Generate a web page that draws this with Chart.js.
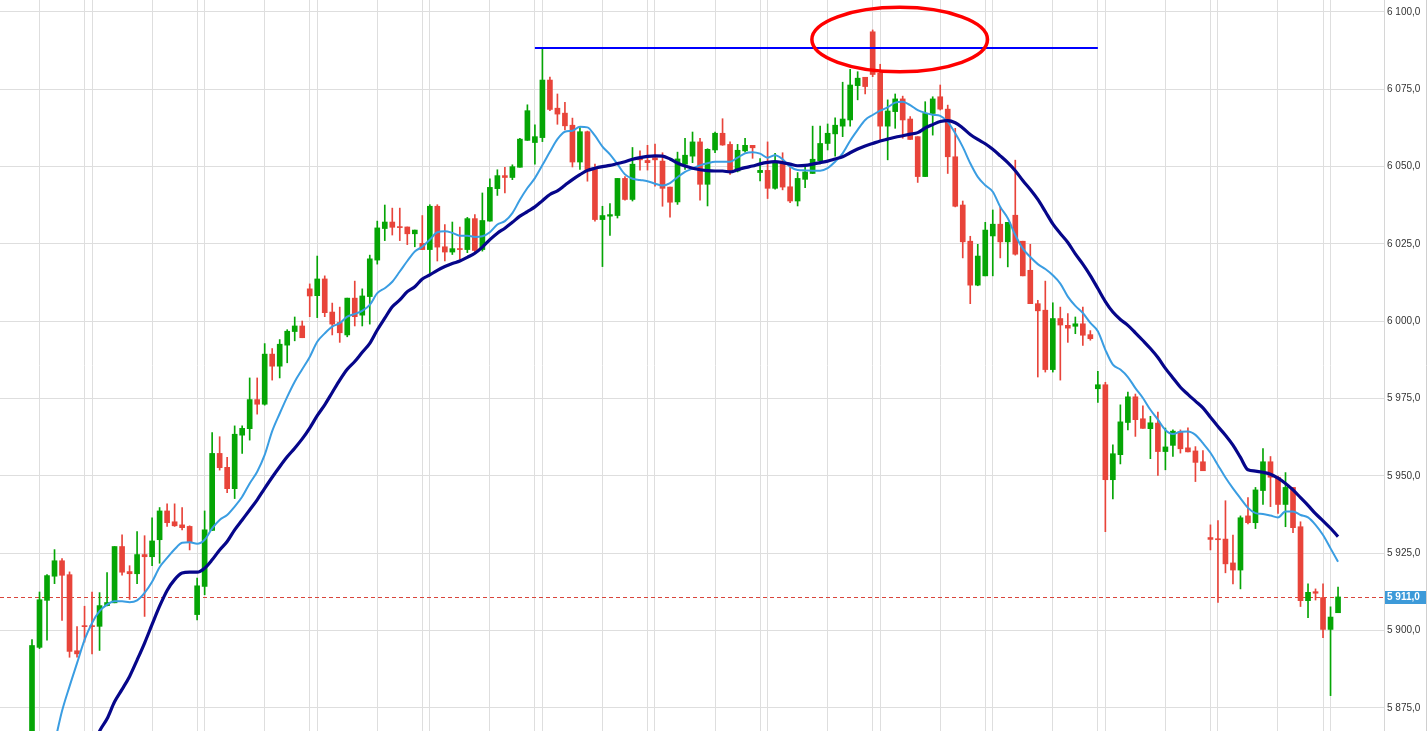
<!DOCTYPE html>
<html><head><meta charset="utf-8">
<script src="https://cdn.jsdelivr.net/npm/chart.js@4.4.1/dist/chart.umd.min.js"></script>
<style>html,body{margin:0;padding:0;background:#fff;overflow:hidden}#wrap{position:relative;width:1427px;height:731px}</style>
</head><body><div id="wrap"><canvas id="c" width="1427" height="731"></canvas></div>
<script>
const opens=[5864,5894.6,5909.8,5917.6,5922.6,5918.1,5893.5,5901.6,5901.6,5901.4,
5908.1,5909.0,5927.2,5919.1,5918.4,5924.6,5923.9,5929.4,5938.7,5935.2,
5934.2,5933.7,5905.2,5914.3,5932.4,5957.3,5952.8,5945.9,5963.2,5965.3,
5974.7,5973.2,5989.4,5985.5,5992.3,5996.7,5998.5,6010.5,6008.3,6013.7,
6003.0,5999.6,5995.6,6007.5,6002.0,6008.0,6019.8,6030.0,6032.1,6030.5,
6030.5,6028.3,6025.2,6023.2,6037.2,6024.1,6022.4,6023.5,6023.2,6033.2,
6023.2,6032.4,6042.9,6047.1,6046.5,6049.8,6058.5,6057.8,6059.4,6078.0,
6068.9,6067.3,6063.4,6051.5,6061.3,6049.1,6032.9,6034.0,6034.2,6046.2,
6039.4,6052.7,6052.0,6052.9,6051.8,6043.4,6038.6,6050.8,6053.4,6058.0,
6044.3,6055.4,6060.8,6057.2,6048.6,6055.1,6056.9,6048.1,6048.8,6043.0,
6051.1,6043.5,6038.9,6045.9,6047.8,6051.9,6057.5,6060.6,6063.1,6065.1,
6076.2,6078.9,6093.6,6080.2,6063.1,6067.8,6071.9,6065.4,6059.7,6046.8,
6067.2,6072.6,6068.6,6053.2,6037.6,6025.9,6011.7,6014.7,6027.6,6031.4,
6025.7,6034.3,6025.9,6016.5,6005.7,6003.6,5984.4,6000.9,5998.7,5998.4,
5999.2,5995.7,5978.2,5979.5,5948.8,5956.9,5967.3,5975.6,5968.5,5965.3,
5967.1,5957.9,5959.9,5964.3,5959.1,5958.1,5954.6,5930.1,5929.6,5929.6,
5921.9,5919.6,5937.1,5934.9,5945.3,5954.6,5949.6,5940.8,5946.3,5933.6,
5909.7,5912.6,5910.7,5900.4,5905.8];
const highs=[5897.1,5912.5,5918.1,5926.2,5923.3,5919.0,5901.3,5907.9,5912.5,5912.3,
5918.8,5927.2,5931.0,5921.0,5932.0,5930.7,5936.5,5939.8,5941.0,5941.0,
5939.8,5933.9,5917.0,5938.7,5964.0,5962.7,5956.0,5966.2,5966.2,5981.7,
5981.7,5992.8,5991.2,5994.1,5997.3,6001.4,6000.1,6012.1,6021.1,6014.7,
6005.9,6004.6,6007.5,6013.0,6010.5,6021.4,6032.4,6037.6,6036.6,6036.6,
6030.5,6029.5,6034.2,6037.7,6037.7,6031.3,6032.1,6030.5,6033.6,6034.5,
6041.5,6046.1,6049.0,6049.8,6050.6,6059.2,6070.0,6063.5,6088.5,6079.0,
6073.5,6070.8,6065.7,6062.7,6061.5,6050.8,6037.2,6038.1,6046.2,6046.8,
6056.2,6055.1,6056.9,6057.3,6054.5,6043.4,6054.7,6059.2,6061.2,6059.2,
6055.8,6061.2,6065.5,6058.0,6057.2,6059.2,6056.9,6052.6,6058.0,6054.3,
6054.5,6050.0,6048.1,6050.4,6063.1,6063.1,6063.8,6065.8,6077.3,6081.5,
6080.7,6078.9,6094.2,6083.1,6071.6,6073.5,6072.8,6066.2,6059.7,6071.0,
6072.6,6076.4,6069.9,6062.4,6038.9,6027.5,6024.9,6032.0,6036.0,6037.0,
6032.0,6052.1,6025.9,6024.9,6006.8,6013.0,6006.0,6004.6,6002.5,6001.4,
6004.6,5997.0,5983.8,5980.3,5960.1,5973.0,5977.1,5976.5,5972.7,5969.3,
5970.7,5965.5,5964.9,5964.9,5965.6,5959.5,5958.2,5934.2,5935.6,5942.0,
5930.9,5937.1,5943.0,5946.3,5958.9,5956.3,5950.0,5951.1,5946.3,5935.2,
5915.1,5913.5,5915.1,5907.7,5914.1];
const lows=[5862,5894.2,5896.9,5915.2,5903.3,5891.4,5891.4,5896.3,5892.5,5893.6,
5908.0,5909.0,5917.9,5910.1,5915.2,5904.6,5921.0,5921.8,5933.7,5933.7,
5932.6,5926.1,5903.5,5911.6,5932.4,5951.9,5944.6,5942.7,5957.3,5961.6,
5970.0,5972.9,5981.0,5981.7,5986.6,5993.7,5994.7,6001.5,6001.2,6001.5,
5995.6,5993.2,5995.0,5998.5,5998.5,5999.1,6018.5,6026.1,6027.9,6026.1,
6024.8,6024.1,6023.2,6015.2,6019.5,6019.5,6021.6,6020.0,6022.2,6022.2,
6022.7,6032.4,6040.7,6041.5,6045.8,6049.8,6058.5,6050.8,6058.1,6068.1,
6063.7,6061.9,6049.9,6049.1,6045.3,6032.4,6017.7,6027.8,6033.4,6039.2,
6038.9,6048.9,6048.9,6043.7,6037.2,6033.7,6037.8,6049.1,6051.3,6039.2,
6037.3,6054.5,6056.9,6047.5,6048.3,6054.7,6052.7,6045.4,6039.7,6042.7,
6042.5,6038.4,6037.3,6043.2,6047.8,6050.9,6055.4,6053.4,6059.7,6063.1,
6071.6,6073.5,6079.1,6058.8,6052.2,6062.4,6059.2,6058.8,6044.9,6046.8,
6060.2,6068.3,6047.8,6037.0,6020.5,6005.7,6011.5,6014.7,6014.7,6020.5,
6017.6,6021.4,6014.7,6005.7,5982.0,5983.6,5983.6,5981.0,5993.2,5996.0,
5992.2,5993.9,5973.8,5932.0,5942.6,5953.9,5964.9,5962.8,5965.4,5955.6,
5950.2,5952.0,5956.3,5957.4,5957.8,5948.2,5951.7,5926.1,5909.1,5918.7,
5915.1,5913.5,5934.5,5933.0,5940.8,5940.1,5937.9,5933.6,5931.7,5907.8,
5904.2,5909.9,5897.7,5879.0,5905.8];
const closes=[5895.2,5910.0,5917.8,5922.6,5917.9,5893.3,5892.5,5901.3,5901.3,5908.1,
5909.1,5927.2,5918.9,5918.4,5924.6,5923.9,5929.0,5938.7,5934.9,5933.9,
5933.3,5928.5,5914.5,5932.6,5957.3,5952.7,5945.9,5963.5,5965.4,5974.7,
5973.2,5989.4,5985.5,5992.6,5996.8,5998.5,5994.7,6008.2,6013.7,6002.8,
5999.1,5996.3,6007.5,6001.5,6008.2,6020.2,6030.2,6032.1,6030.4,6030.3,
6028.3,6029.5,6023.2,6037.2,6024.0,6022.4,6023.5,6023.2,6033.2,6022.9,
6032.6,6043.3,6047.1,6046.5,6050.0,6058.9,6068.1,6059.7,6078.0,6068.5,
6067.0,6063.2,6051.5,6061.3,6048.6,6032.9,6034.2,6034.5,6046.2,6039.4,
6050.8,6052.2,6051.3,6052.2,6043.0,6038.5,6052.5,6053.7,6058.0,6044.3,
6055.6,6060.8,6057.0,6048.3,6055.3,6056.9,6056.1,6048.8,6043.0,6051.1,
6043.4,6038.9,6046.2,6048.3,6052.4,6057.5,6060.8,6063.4,6065.4,6076.4,
6078.6,6075.9,6079.8,6063.1,6068.0,6071.9,6065.1,6058.8,6046.8,6067.2,
6071.9,6068.6,6053.2,6037.2,6025.7,6011.7,6021.1,6029.5,6031.4,6025.7,
6032.0,6021.7,6014.7,6005.7,6003.4,5984.4,6000.9,5998.8,5997.8,5999.2,
5995.5,5994.4,5979.5,5948.8,5957.2,5967.5,5975.6,5968.2,5965.4,5967.2,
5957.9,5959.4,5964.5,5958.8,5957.8,5954.4,5951.7,5929.5,5929.4,5921.6,
5919.6,5936.5,5934.9,5945.5,5954.6,5949.6,5940.8,5946.3,5933.3,5909.7,
5912.4,5912.1,5900.4,5904.4,5910.9];
const maFast=[null,null,null,5863.5,5874,5882,5889.5,5897,5902.5,5906.3,
5908.4,5909.5,5909.5,5909.2,5909.8,5912.2,5915.8,5920.5,5923.5,5926.3,
5928.4,5928.6,5928.1,5929.4,5933.1,5935.8,5937.4,5940.1,5943.3,5947.6,
5951.4,5956.8,5964.5,5970.2,5975.6,5980.5,5984.5,5988.5,5993.4,5996.1,
5998.3,5999.4,6001.5,6002.4,6003.4,6005.3,6009.1,6010.7,6012.8,6016.1,
6019.5,6022.6,6024.1,6026.4,6028.8,6029.1,6028.6,6027.7,6027.7,6027.3,
6027.5,6028.8,6031.3,6032.4,6035.0,6039.3,6043.1,6046.3,6050.5,6054.8,
6058.9,6061.3,6061.6,6062.9,6062.7,6060.0,6056.5,6054.0,6050.8,6047.5,
6046.1,6045.7,6045.3,6044.5,6043.9,6044.7,6046.6,6048.3,6049.4,6050.4,
6051.1,6051.6,6051.6,6051.6,6052.9,6054.3,6054.7,6054.2,6052.9,6053.7,
6052.4,6050.0,6048.9,6048.8,6048.7,6048.7,6049.5,6051.6,6054.3,6058.4,
6061.9,6065.1,6066.7,6068.1,6069.2,6070.7,6071.0,6069.9,6068.3,6067.4,
6066.8,6066.4,6064.5,6060.8,6056.4,6051.1,6046.7,6044.0,6041.9,6037.0,
6033.3,6027.9,6023.5,6020.8,6018.5,6016.9,6014.9,6012.2,6008.0,6005.0,
6002.7,5999.5,5996.8,5990.8,5986.0,5984.4,5982.0,5978.4,5975.2,5971.4,
5968.2,5964.9,5963.6,5964.3,5964.4,5963.3,5960.6,5957.5,5953.5,5949.5,
5946.0,5942.8,5939.7,5938.0,5937.7,5937.2,5936.6,5938.5,5938.5,5937.4,
5936.6,5934.2,5930.9,5926.6,5922.3];
const maSlow=[null,null,null,null,null,null,null,null,5861,5867.5,
5871.5,5877,5881,5885.2,5890.5,5896,5902,5907.9,5913,5916.5,
5918.6,5918.9,5918.9,5920.2,5922.9,5926.1,5928.8,5932.6,5935.8,5939.0,
5942.3,5946.0,5949.6,5953.0,5956.2,5959,5962,5965.5,5969.5,5973,
5977,5981,5984.5,5987,5990,5992.9,5997.2,6001.0,6004.7,6006.9,
6009.6,6011.2,6013.7,6015,6016.5,6017.7,6018.7,6019.5,6020.7,6022.0,
6024.0,6026.4,6028.5,6030.1,6032.0,6034.0,6035.5,6037.0,6039.0,6041.0,
6042.2,6044,6045.8,6047.4,6048.8,6049.5,6050.0,6050.4,6051.0,6051.6,
6052.4,6052.9,6053.3,6053.5,6053.4,6052.5,6051.2,6050.2,6049.5,6049.0,
6048.7,6048.6,6048.6,6048.3,6049.0,6049.7,6050.2,6050.9,6051.4,6051.6,
6051.3,6050.8,6050.3,6050.4,6050.8,6051.3,6051.8,6052.5,6053.2,6054.5,
6055.7,6056.7,6057.5,6058.3,6058.9,6059.5,6060.0,6060.5,6061.0,6062.5,
6063.6,6064.6,6064.9,6064.2,6062.5,6060.4,6058.8,6057.4,6055.6,6053.5,
6051.3,6048.7,6045.5,6042.6,6039.4,6035.5,6031.5,6028.4,6025.5,6021.8,
6018.5,6014.8,6010.6,6006.4,6003.0,6000.6,5998.7,5996.3,5993.8,5991.2,
5988.3,5984.8,5981.7,5978.7,5976.4,5974.2,5972.0,5969.0,5966,5963.2,
5960,5956,5952,5951.6,5951.2,5950.6,5949.3,5947.6,5945.5,5943.0,
5940.5,5937.8,5935.5,5933.1,5930.4];
const yTicks=[5875,5900,5925,5950,5975,6000,6025,6050,6075,6100];
const xGridIdx=[1,7,8,16,22,23,31,37,38,46,52,53,61,67,68,76,82,83,91,97,98,106,112,113,121,127,128,136,142,143,151,157,158,166,172,173];
const resistance={from:67,to:142,level:6088.4};
const highlight={x:115.6,y:6091.1,rx:11.7,ry:10.4};
const lastPrice=5911;

const GREEN='#05a505', RED='#e8443a';
const idx=opens.map((_,i)=>i);
const col=idx.map(i=>closes[i]>=opens[i]?GREEN:RED);
const fmt=v=>{const s=Math.round(v).toString();return s.slice(0,-3)+' '+s.slice(-3)+',0';};
const noPad=s=>{s.paddingTop=0;s.paddingBottom=0;s.paddingLeft=0;s.paddingRight=0;};

const overlay={
  id:'overlay',
  beforeDatasetsDraw(chart){
    const {ctx,chartArea:a,scales:{y}}=chart;
    const py=Math.round(y.getPixelForValue(lastPrice))+0.5;
    ctx.save();
    ctx.strokeStyle='#d9463c';ctx.lineWidth=1;ctx.setLineDash([4,3]);
    ctx.beginPath();ctx.moveTo(a.left,py);ctx.lineTo(a.right,py);ctx.stroke();
    ctx.restore();
  },
  afterDatasetsDraw(chart){
    const {ctx,scales:{x,y}}=chart;
    const cx=x.getPixelForValue(highlight.x),cy=y.getPixelForValue(highlight.y);
    const rx=Math.abs(x.getPixelForValue(highlight.x+highlight.rx)-cx);
    const ry=Math.abs(y.getPixelForValue(highlight.y+highlight.ry)-cy);
    ctx.save();
    ctx.strokeStyle='#ff0000';ctx.lineWidth=3.5;
    ctx.beginPath();ctx.ellipse(cx,cy,rx,ry,0,0,Math.PI*2);ctx.stroke();
    ctx.restore();
  },
  afterDraw(chart){
    const {ctx,chartArea:a,scales:{y}}=chart;
    const py=Math.round(y.getPixelForValue(lastPrice));
    ctx.save();
    ctx.fillStyle='#3d9ad9';ctx.fillRect(a.right+1,py-6,chart.width-a.right-2,13);
    ctx.fillStyle='#ffffff';ctx.font='bold 10px "Liberation Sans", Arial, sans-serif';
    ctx.textBaseline='middle';ctx.textAlign='left';
    ctx.fillText(fmt(lastPrice),a.right+3,py+0.5);
    ctx.strokeStyle='#cfcfcf';ctx.lineWidth=1;
    ctx.beginPath();ctx.moveTo(chart.width-0.5,0);ctx.lineTo(chart.width-0.5,chart.height);ctx.stroke();
    ctx.restore();
  }
};

new Chart(document.getElementById('c'),{
  type:'bar',
  data:{datasets:[
    {type:'line',label:'resistance',data:[{x:resistance.from,y:resistance.level},{x:resistance.to,y:resistance.level}],
     borderColor:'#0000ff',borderWidth:2,pointRadius:0,order:0},
    {type:'line',label:'MA slow',data:idx.map(i=>({x:i,y:maSlow[i]})),borderColor:'#06068a',borderWidth:3.2,
     pointRadius:0,cubicInterpolationMode:'monotone',spanGaps:false,order:1},
    {type:'line',label:'MA fast',data:idx.map(i=>({x:i,y:maFast[i]})),borderColor:'#3a9de2',borderWidth:2,
     pointRadius:0,cubicInterpolationMode:'monotone',spanGaps:false,order:2},
    {label:'bodies',data:idx.map(i=>({x:i,y:[opens[i],closes[i]]})),backgroundColor:col,
     barThickness:5,minBarLength:1,grouped:false,borderWidth:0,order:3},
    {label:'wicks',data:idx.map(i=>({x:i,y:[lows[i],highs[i]]})),backgroundColor:col,
     barThickness:1,grouped:false,borderWidth:0,order:4}
  ]},
  options:{
    responsive:false,animation:false,events:[],
    layout:{padding:0},
    plugins:{legend:{display:false},tooltip:{enabled:false},title:{display:false}},
    scales:{
      x:{type:'linear',min:-32/7.506,max:-32/7.506+1384/7.506,offset:false,
         grid:{color:'#dedede',lineWidth:1,offset:false,drawTicks:false},
         border:{display:false},ticks:{display:false},
         afterBuildTicks:s=>{s.ticks=xGridIdx.map(v=>({value:v}));},
         afterFit:s=>{s.height=0;noPad(s);}},
      y:{type:'linear',position:'right',min:6100-719/3.0933,max:6100+12/3.0933,
         grid:{color:'#dedede',lineWidth:1,drawTicks:false},
         border:{display:true,color:'#d6d6d6'},
         ticks:{padding:3,color:'#333',font:{family:'"Liberation Sans", Arial, sans-serif',size:10},callback:v=>fmt(v)},
         afterBuildTicks:s=>{s.ticks=yTicks.map(v=>({value:v}));},
         afterFit:s=>{s.width=43;noPad(s);}}
    }
  },
  plugins:[overlay]
});
</script></body></html>
